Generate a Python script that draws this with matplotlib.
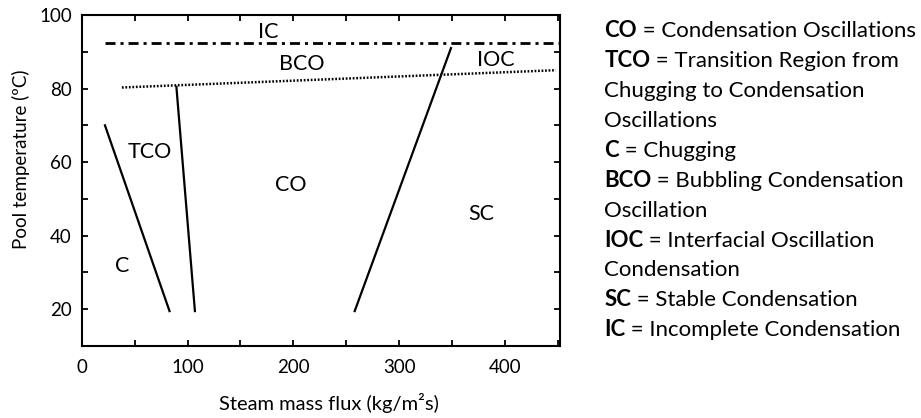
import matplotlib
matplotlib.use("Agg")
import matplotlib.pyplot as plt
import numpy as np

plt.rcParams["font.family"] = ["Lato", "DejaVu Sans"]

# boundary lines of the regime map
c_tco_x = [22, 83]
c_tco_y = [70, 19.5]
tco_co_x = [89.5, 107]
tco_co_y = [80.5, 19.5]
co_sc_x = [258, 349]
co_sc_y = [19.5, 91]
ic_x = [22, 452]
ic_y = [92.3, 92.3]
bco_x = [38, 448]
bco_y = [80.3, 85]

# region labels
regions = ["IC", "BCO", "IOC", "TCO", "CO", "SC", "C"]
region_x = [176, 208, 391, 64, 198, 378, 38]
region_y = [95.5, 86.6, 87.9, 62.8, 53.9, 46, 31.8]

xticks = np.arange(0, 451, 50)
xtick_labels = ["0", "", "100", "", "200", "", "300", "", "400", ""]
yticks = np.arange(10, 101, 10)
ytick_labels = ["", "20", "", "40", "", "60", "", "80", "", "100"]

# legend text: (bold part, rest)
legend_lines = [
    ("CO", " = Condensation Oscillations"),
    ("TCO", " = Transition Region from"),
    ("", "Chugging to Condensation"),
    ("", "Oscillations"),
    ("C", " = Chugging"),
    ("BCO", " = Bubbling Condensation"),
    ("", "Oscillation"),
    ("IOC", " = Interfacial Oscillation"),
    ("", "Condensation"),
    ("SC", " = Stable Condensation"),
    ("IC", " = Incomplete Condensation"),
]

fig = plt.figure(figsize=(9.21, 4.18), dpi=100)
ax = fig.add_axes([0.0887, 0.1722, 0.5193, 0.7918])

ax.plot(c_tco_x, c_tco_y, color="black", lw=1.6)
ax.plot(tco_co_x, tco_co_y, color="black", lw=1.6)
ax.plot(co_sc_x, co_sc_y, color="black", lw=1.6)
ax.plot(ic_x, ic_y, color="black", lw=2, ls=(0, (3.6, 1.8, 1.1, 1.8)))
ax.plot(bco_x, bco_y, color="black", lw=1.8, ls=(0, (0.7, 0.7)))

for name, x, y in zip(regions, region_x, region_y):
    ax.text(x, y, name, ha="center", va="center", fontsize=15.5)

ax.set_xlim(0, 452)
ax.set_ylim(10, 100)
ax.set_xticks(xticks)
ax.set_xticklabels(xtick_labels)
ax.set_yticks(yticks)
ax.set_yticklabels(ytick_labels)
ax.tick_params(direction="in", length=4.4, width=1.3, top=True, right=True,
               labelsize=13.5)
ax.tick_params(axis="x", pad=9.5)
ax.tick_params(axis="y", pad=7)
for s in ax.spines.values():
    s.set_linewidth(1.5)

ax.set_xlabel("Steam mass flux (kg/m²s)", fontsize=14.5)
ax.set_ylabel("Pool temperature (ºC)", fontsize=13.5)
ax.xaxis.set_label_coords(0.516, -0.142)
ax.yaxis.set_label_coords(-0.108, 0.565)

for i, (bold, rest) in enumerate(legend_lines):
    y = 1 - (37.3 + 29.9 * i) / 418
    if bold:
        t = fig.text(0.656, y, bold, fontsize=16, fontweight="bold", va="baseline")
        ax.annotate(rest, xy=(1, 0), xycoords=t, va="bottom", fontsize=16,
                    annotation_clip=False)
    else:
        fig.text(0.656, y, rest, fontsize=16, va="baseline")

fig.savefig("out.png", dpi=100)
